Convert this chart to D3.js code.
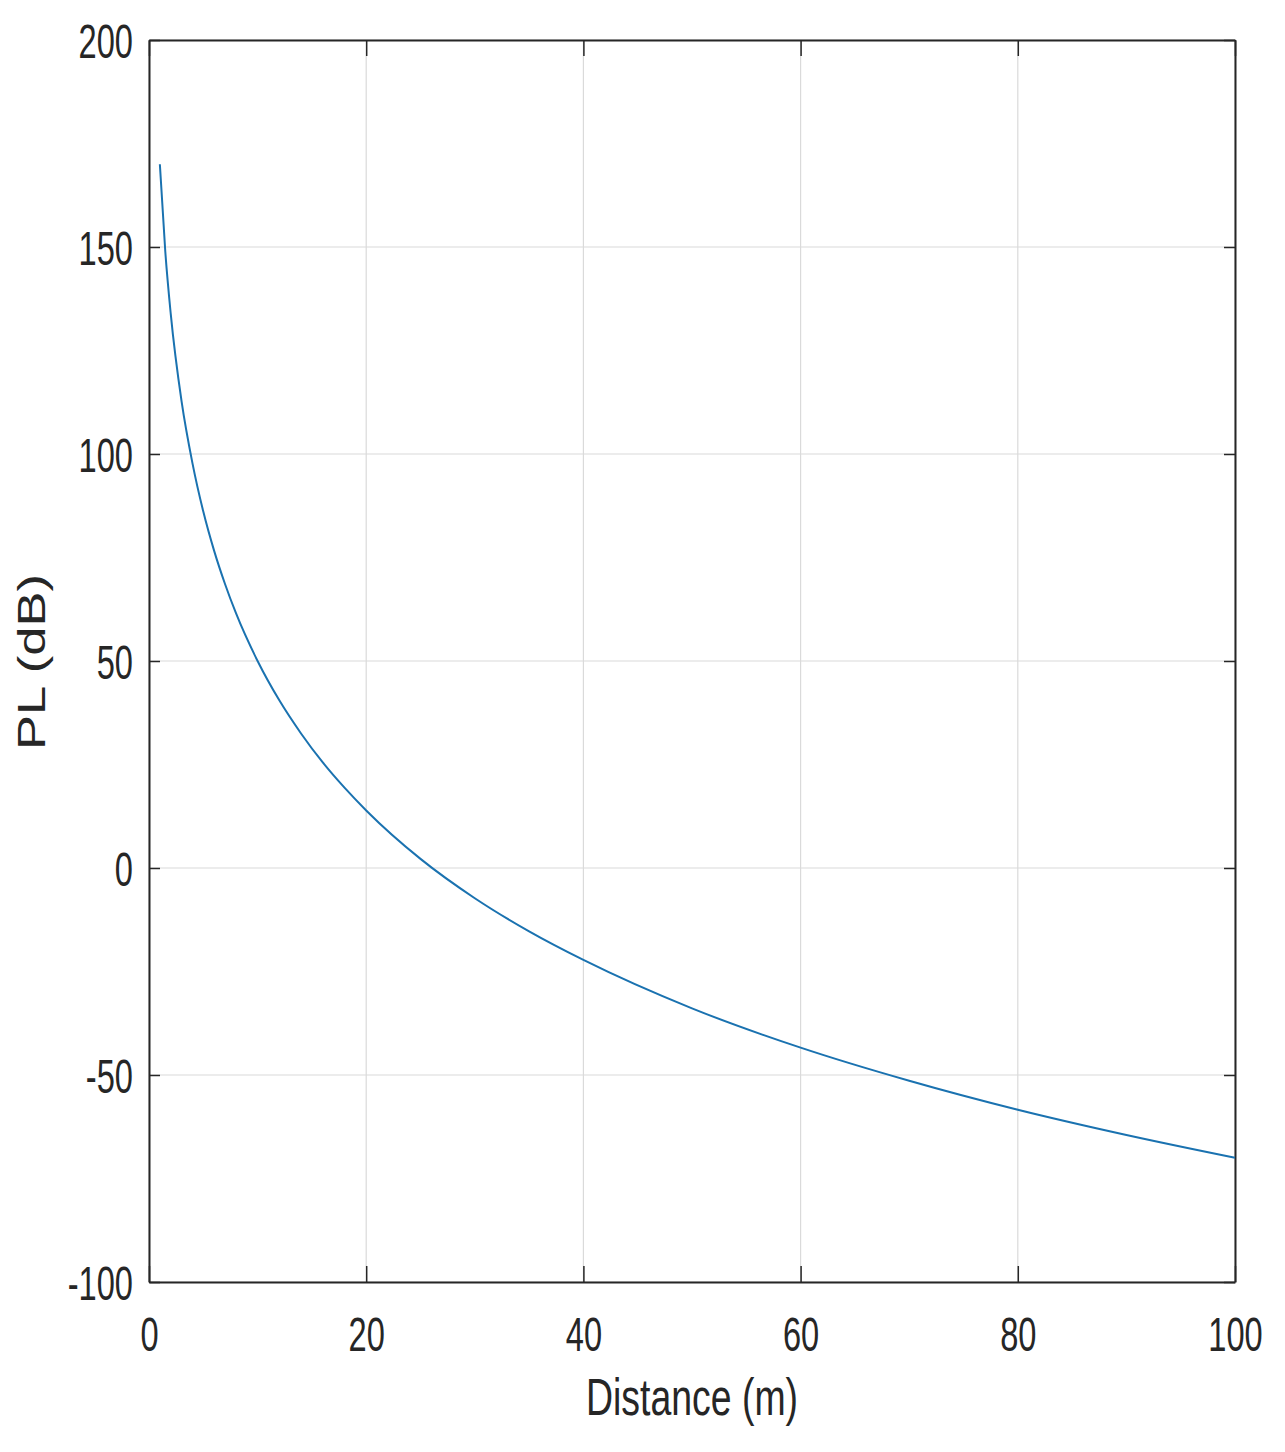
<!DOCTYPE html>
<html>
<head>
<meta charset="utf-8">
<script src="https://cdn.jsdelivr.net/npm/d3@7/dist/d3.min.js"></script>
<style>
  body { margin: 0; background: #fff; }
  svg { display: block; }
  .tick text { font-family: "Liberation Sans", Arial, sans-serif; fill: #262626; }
</style>
</head>
<body>
<div id="chart"></div>
<script>
// values (distance in m, path loss in dB)
var distance = [1, 1.5, 2, 3, 4, 5, 6, 7, 8, 10, 12, 14, 16, 18, 20, 25, 30, 35, 40, 50, 60, 70, 80, 90, 100];
var pathLoss = [170, 148.9, 133.9, 112.7, 97.8, 86.1, 76.6, 68.6, 61.6, 50, 40.5, 32.5, 25.5, 19.4, 13.9, 2.2, -7.3, -15.3, -22.2, -33.9, -43.4, -51.4, -58.4, -64.5, -70];
var xTicks = [0, 20, 40, 60, 80, 100];
var yTicks = [-100, -50, 0, 50, 100, 150, 200];

var W = 1285, H = 1452;
var plotLeft = 149, plotRight = 1235, plotTop = 40, plotBottom = 1282;

var svg = d3.select("#chart").append("svg")
    .attr("width", W)
    .attr("height", H);

var x = d3.scaleLinear().domain([0, 100]).range([plotLeft, plotRight]);
var y = d3.scaleLinear().domain([-100, 200]).range([plotBottom, plotTop]);

// grid
svg.append("g").selectAll("line")
    .data(xTicks).enter().append("line")
    .attr("x1", d => x(d)).attr("x2", d => x(d))
    .attr("y1", plotTop).attr("y2", plotBottom)
    .attr("stroke", "#dadada").attr("stroke-width", 1.2);
svg.append("g").selectAll("line")
    .data(yTicks).enter().append("line")
    .attr("x1", plotLeft).attr("x2", plotRight)
    .attr("y1", d => y(d)).attr("y2", d => y(d))
    .attr("stroke", "#dadada").attr("stroke-width", 1.2);

// plain hyphen for negatives, as in the original
var fmt = d => String(d);

// axes (ticks point inward, like matlab)
var xAxis = svg.append("g")
    .attr("transform", "translate(0," + plotBottom + ")")
    .call(d3.axisBottom(x).tickValues(xTicks).tickFormat(fmt).tickSizeInner(-16).tickSizeOuter(0).tickPadding(0));
var xTop = svg.append("g")
    .attr("transform", "translate(0," + plotTop + ")")
    .call(d3.axisTop(x).tickValues(xTicks).tickSizeInner(-16).tickSizeOuter(0).tickFormat(""));
var yAxis = svg.append("g")
    .attr("transform", "translate(" + plotLeft + ",0)")
    .call(d3.axisLeft(y).tickValues(yTicks).tickFormat(fmt).tickSizeInner(-11).tickSizeOuter(0).tickPadding(0));
var yRight = svg.append("g")
    .attr("transform", "translate(" + plotRight + ",0)")
    .call(d3.axisRight(y).tickValues(yTicks).tickSizeInner(-11).tickSizeOuter(0).tickFormat(""));

[xAxis, xTop, yAxis, yRight].forEach(function (g) {
    g.select(".domain").attr("stroke", "#262626").attr("stroke-width", 2);
    g.selectAll(".tick line").attr("stroke", "#262626").attr("stroke-width", 1.5);
});

// tick labels: narrow look of the original
xAxis.selectAll(".tick text")
    .attr("font-size", 48)
    .attr("y", 0).attr("dy", 0)
    .attr("transform", "translate(0,69) scale(0.68,1)");
yAxis.selectAll(".tick text")
    .attr("font-size", 48)
    .attr("x", 0).attr("dy", "0.36em")
    .attr("text-anchor", "end")
    .attr("transform", "translate(-16,0) scale(0.68,1)");

// curve
var line = d3.line()
    .x((d, i) => x(distance[i]))
    .y(d => y(d))
    .curve(d3.curveMonotoneX);

svg.append("path")
    .datum(pathLoss)
    .attr("d", line)
    .attr("fill", "none")
    .attr("stroke", "#1a72b0")
    .attr("stroke-width", 2);

// axis titles
svg.append("text")
    .attr("transform", "translate(692,1415) scale(0.72,1)")
    .attr("text-anchor", "middle")
    .attr("font-family", "Liberation Sans, Arial, sans-serif")
    .attr("font-size", 52)
    .attr("fill", "#262626")
    .text("Distance (m)");

svg.append("text")
    .attr("transform", "translate(45,662) rotate(-90) scale(1.38,1)")
    .attr("text-anchor", "middle")
    .attr("font-family", "Liberation Sans, Arial, sans-serif")
    .attr("font-size", 38)
    .attr("fill", "#262626")
    .text("PL (dB)");
</script>
</body>
</html>
